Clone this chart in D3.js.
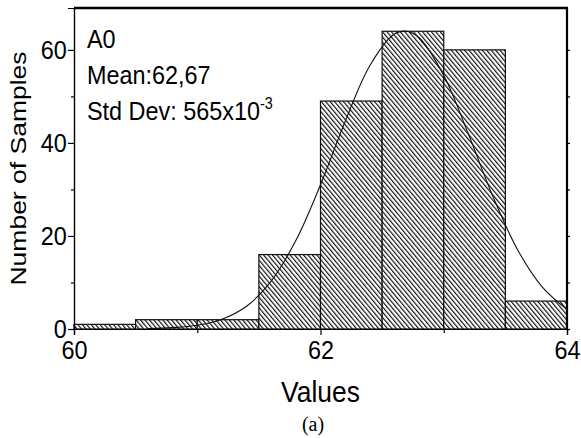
<!DOCTYPE html>
<html>
<head>
<meta charset="utf-8">
<script src="https://cdn.jsdelivr.net/npm/d3@7"></script>
<style>
  html, body { margin: 0; padding: 0; background: #fff; }
  svg { display: block; }
</style>
</head>
<body>
<svg id="chart" width="581" height="438"></svg>
<script>
/* ── data ────────────────────────────────────────────────────── */
const binStarts = [60, 60.5, 61, 61.5, 62, 62.5, 63, 63.5];
const binWidth  = 0.5;
const counts    = [1, 2, 2, 16, 49, 64, 60, 6];

// fitted normal curve, sampled by eye
const curveX = [60.6, 60.8, 61.0, 61.2, 61.4, 61.6, 61.8, 62.0, 62.2, 62.4, 62.6, 62.7,
                62.8, 63.0, 63.2, 63.4, 63.6, 63.8, 64.0];
const curveY = [0.1, 0.3, 0.8, 2.1, 4.9, 10.3, 19.0, 31.0, 44.6, 56.6, 63.4, 64.0,
                62.6, 54.5, 41.9, 28.4, 17.0, 9.0, 4.2];

const xMajor = [60, 62, 64];
const xMinor = [61, 63];
const yMajor = [0, 20, 40, 60];
const yMinor = [10, 30, 50];

const legendLines = ['A0', 'Mean:62,67', 'Std Dev: 565x10'];

/* ── layout ──────────────────────────────────────────────────── */
const L = 74, R = 567, T = 8, B = 329;
const svg = d3.select('#chart');
const x = d3.scaleLinear().domain([60, 64]).range([L, R]);
const y = d3.scaleLinear().domain([0, 69]).range([B, T]);
const FONT = 'Liberation Sans, Arial, sans-serif';

// hatch pattern
const defs = svg.append('defs');
const pat = defs.append('pattern')
  .attr('id', 'hatch')
  .attr('patternUnits', 'userSpaceOnUse')
  .attr('width', 3.4).attr('height', 20)
  .attr('patternTransform', 'rotate(-40)');
pat.append('rect').attr('width', 3.4).attr('height', 20).attr('fill', '#fff');
pat.append('line')
  .attr('x1', 0.6).attr('y1', 0).attr('x2', 0.6).attr('y2', 20)
  .attr('stroke', '#000').attr('stroke-width', 1.1);

/* ── bars ────────────────────────────────────────────────────── */
svg.append('g').selectAll('rect').data(counts).join('rect')
  .attr('x', (d, i) => x(binStarts[i]))
  .attr('y', d => y(d))
  .attr('width', (d, i) => x(binStarts[i] + binWidth) - x(binStarts[i]))
  .attr('height', d => y(0) - y(d))
  .attr('fill', 'url(#hatch)')
  .attr('stroke', '#111')
  .attr('stroke-width', 1.2);

/* ── fitted curve ────────────────────────────────────────────── */
const line = d3.line()
  .x(d => x(d[0])).y(d => y(d[1]))
  .curve(d3.curveCatmullRom.alpha(0.5));
svg.append('path')
  .datum(d3.zip(curveX, curveY))
  .attr('d', line)
  .attr('fill', 'none')
  .attr('stroke', '#111')
  .attr('stroke-width', 1.1);

/* ── axes ────────────────────────────────────────────────────── */
function styleAxis(g) {
  g.select('.domain').attr('stroke', '#000').attr('stroke-width', 1.2);
  g.selectAll('.tick line').attr('stroke', '#000').attr('stroke-width', 1.2);
  g.selectAll('.tick text')
    .attr('fill', '#000')
    .attr('font-family', FONT)
    .attr('font-size', 26);
}

// bottom
svg.append('g').attr('transform', `translate(0,${B})`)
  .call(d3.axisBottom(x).tickValues(xMinor).tickSize(4).tickFormat(''))
  .call(styleAxis);
svg.append('g').attr('transform', `translate(0,${B})`)
  .call(d3.axisBottom(x).tickValues(xMajor).tickSize(6).tickPadding(6).tickFormat(d3.format('d')))
  .call(styleAxis)
  .call(g => g.selectAll('.tick text').attr('transform', 'scale(0.9,1)'));

// left
svg.append('g').attr('transform', `translate(${L},0)`)
  .call(d3.axisLeft(y).tickValues(yMinor).tickSize(3).tickFormat(''))
  .call(styleAxis);
svg.append('g').attr('transform', `translate(${L},0)`)
  .call(d3.axisLeft(y).tickValues(yMajor).tickSize(6).tickPadding(2).tickFormat(d3.format('d')))
  .call(styleAxis)
  .call(g => g.selectAll('.tick text').attr('transform', 'scale(0.9,1)'));

// right (ticks only)
svg.append('g').attr('transform', `translate(${R},0)`)
  .call(d3.axisRight(y).tickValues(yMajor.concat(yMinor)).tickSize(3).tickFormat(''))
  .call(g => g.select('.domain').remove())
  .call(styleAxis);

// frame top + right
svg.append('line').attr('x1', L).attr('x2', R + 1).attr('y1', T).attr('y2', T)
  .attr('stroke', '#000').attr('stroke-width', 2.4);
svg.append('line').attr('x1', R).attr('x2', R).attr('y1', T).attr('y2', B)
  .attr('stroke', '#000').attr('stroke-width', 2.2);

/* ── titles ──────────────────────────────────────────────────── */
svg.append('text')
  .attr('x', x(62)).attr('y', 402)
  .attr('text-anchor', 'middle')
  .attr('font-family', FONT).attr('font-size', 30)
  .attr('transform', `translate(${x(62)},0) scale(0.88,1) translate(${-x(62)},0)`)
  .text('Values');

svg.append('text')
  .attr('transform', `translate(26,${(T + B) / 2}) scale(0.8,1) rotate(-90)`)
  .attr('text-anchor', 'middle')
  .attr('font-family', FONT).attr('font-size', 26.5)
  .text('Number of Samples');

svg.append('text')
  .attr('x', 313).attr('y', 431)
  .attr('text-anchor', 'middle')
  .attr('font-family', 'Liberation Serif, Times New Roman, serif').attr('font-size', 20)
  .text('(a)');

/* ── legend ──────────────────────────────────────────────────── */
const leg = svg.append('g')
  .attr('font-family', FONT).attr('font-size', 26)
  .attr('transform', 'translate(87,0) scale(0.9,1)');
legendLines.forEach((s, i) => {
  const t = leg.append('text').attr('x', 0).attr('y', 48 + i * 36).text(s);
  if (i === 2) {
    t.append('tspan').attr('dy', -11).attr('font-size', 16).text('-3');
  }
});
</script>
</body>
</html>
